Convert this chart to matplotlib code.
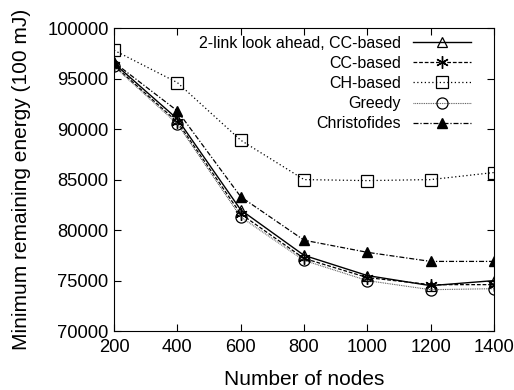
import numpy as np
import matplotlib.pyplot as plt

# Data
nodes = [200, 400, 600, 800, 1000, 1200, 1400]
two_link = [96500, 91000, 82000, 77500, 75500, 74500, 75000]
cc_based = [96300, 90700, 81600, 77200, 75300, 74600, 74600]
ch_based = [97800, 94600, 88900, 85000, 84900, 85000, 85700]
greedy = [96200, 90500, 81300, 77000, 75000, 74100, 74200]
christofides = [96600, 91800, 83300, 79000, 77800, 76900, 76900]

plt.rcParams['font.family'] = ['Liberation Sans', 'DejaVu Sans']

fig = plt.figure(figsize=(5.14, 3.9), dpi=100)
ax = fig.add_axes([0.222, 0.151, 0.739, 0.777])

ax.plot(nodes, two_link, color='black', linestyle='-', linewidth=1.0,
        marker='^', markersize=7, markerfacecolor='none', markeredgewidth=0.9,
        label='2-link look ahead, CC-based')
ax.plot(nodes, cc_based, color='black', linestyle=(0, (3, 1.5)), linewidth=0.9,
        marker=(6, 2, 0), markersize=9, markeredgewidth=1.0,
        label='CC-based')
ax.plot(nodes, ch_based, color='black', linestyle=(0, (1, 2)), linewidth=0.9,
        marker='s', markersize=8, markerfacecolor='none', markeredgewidth=0.9,
        label='CH-based')
ax.plot(nodes, greedy, color='#555555', linestyle=(0, (0.8, 0.8)), linewidth=0.8,
        marker='o', markersize=8, markerfacecolor='none', markeredgecolor='black',
        markeredgewidth=0.9, label='Greedy')
ax.plot(nodes, christofides, color='black', linestyle=(0, (4, 1.5, 1, 1.5)), linewidth=0.9,
        marker='^', markersize=7, label='Christofides')

ax.set_xlim(200, 1400)
ax.set_ylim(70000, 100000)
ax.set_xticks(nodes)
ax.set_yticks(np.arange(70000, 100001, 5000))
ax.tick_params(direction='in', top=True, right=True, labelsize=13.2, length=5)
ax.tick_params(axis='x', pad=6)
ax.tick_params(axis='y', pad=4)
ax.set_xlabel('Number of nodes', fontsize=15, labelpad=10)
ax.set_ylabel('Minimum remaining energy (100 mJ)', fontsize=15, labelpad=12)

ax.legend(loc='upper right', bbox_to_anchor=(0.947, 0.985), frameon=False,
          markerfirst=False, fontsize=11.5, handlelength=3.6, labelspacing=0.32,
          borderaxespad=0, borderpad=0.2, handletextpad=0.75)

fig.savefig('out.png', dpi=100)
